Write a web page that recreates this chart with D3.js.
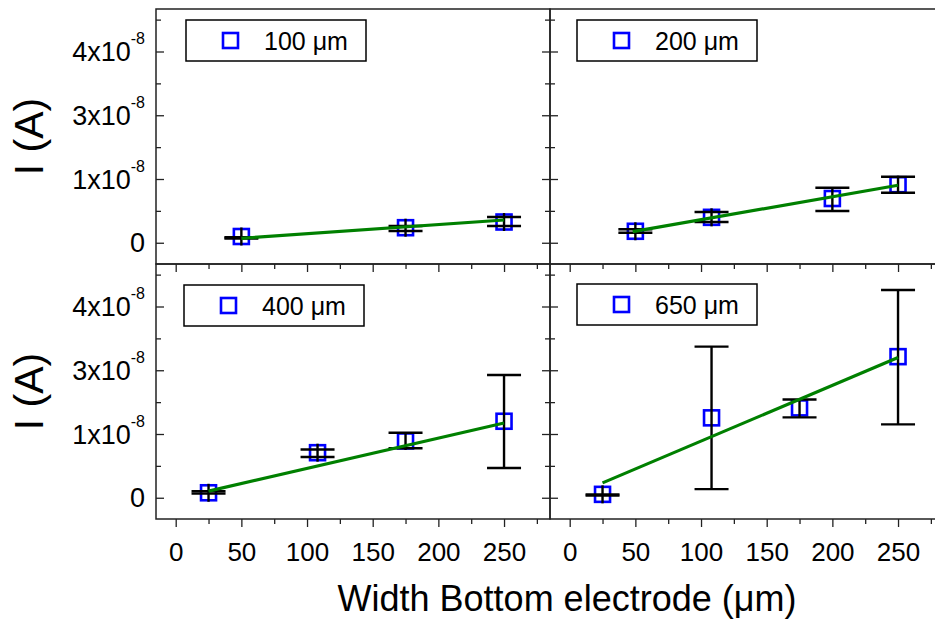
<!DOCTYPE html>
<html>
<head>
<meta charset="utf-8">
<script src="https://cdn.jsdelivr.net/npm/d3@7"></script>
<style>
  html, body { margin: 0; padding: 0; background: #fff; }
  svg { display: block; }
  text { font-family: "Liberation Sans", Arial, sans-serif; fill: #000; }
</style>
</head>
<body>
<svg id="chart" width="935" height="619"></svg>
<script>
// ---------------- data ----------------
const xTickValues = [0, 50, 100, 150, 200, 250];
const xMinorValues = [25, 75, 125, 175, 225, 275];
const yTickValues = [0, 1.5, 3, 4.5];           // tick positions on the plot's y scale
const yMinorValues = [0.75, 2.25, 3.75, 5.25];
const yTickMain = ["0", "1x10", "3x10", "4x10"];
const yTickExp  = ["", "-8", "-8", "-8"];

const panelLabels = ["100 \u03bcm", "200 \u03bcm", "400 \u03bcm", "650 \u03bcm"];

const x100  = [50, 175, 250];
const y100  = [0.147, 0.354, 0.488];
const lo100 = [0.10, 0.276, 0.394];
const hi100 = [0.13, 0.394, 0.606];
const fitX100 = [50, 250];
const fitY100 = [0.105, 0.535];

const x200  = [50, 108, 200, 250];
const y200  = [0.27, 0.598, 1.041, 1.366];
const lo200 = [0.236, 0.488, 0.747, 1.178];
const hi200 = [0.316, 0.724, 1.295, 1.554];
const fitX200 = [48, 250];
const fitY200 = [0.26, 1.352];

const x400  = [25, 108, 175, 250];
const y400  = [0.117, 1.06, 1.336, 1.80];
const lo400 = [0.10, 0.96, 1.165, 0.70];
const hi400 = [0.157, 1.134, 1.53, 2.89];
const fitX400 = [25, 250];
const fitY400 = [0.157, 1.76];

const x650  = [25, 108, 175, 250];
const y650  = [0.08, 1.88, 2.114, 3.32];
const lo650 = [0.05, 0.204, 1.891, 1.727];
const hi650 = [0.08, 3.555, 2.313, 4.89];
const fitX650 = [25, 250];
const fitY650 = [0.35, 3.30];

const seriesX  = [x100, x200, x400, x650];
const seriesY  = [y100, y200, y400, y650];
const seriesLo = [lo100, lo200, lo400, lo650];
const seriesHi = [hi100, hi200, hi400, hi650];
const fitXs = [fitX100, fitX200, fitX400, fitX650];
const fitYs = [fitY100, fitY200, fitY400, fitY650];

// ---------------- layout ----------------
const svg = d3.select("#chart");
const colLeft = [156, 550];
const rowTop = [9, 264];
const pw = 394, ph = 255;
const legendOffsets = [[30, 11], [27, 11], [28, 21], [27, 20]];
const legendW = 180, legendH = 41;

const xDomain = [-15, 285];
const yDomain = [-0.5, 5.5];

const blue = "#0000ff", green = "#008000";
const frameColor = "#222";

function styleTicks(s) {
  s.select(".domain").remove();
  s.selectAll("line").attr("stroke", frameColor).attr("stroke-width", 1.3);
}

for (let p = 0; p < 4; p++) {
  const col = p % 2, row = Math.floor(p / 2);
  const x0 = colLeft[col], y0 = rowTop[row];
  const x = d3.scaleLinear().domain(xDomain).range([x0, x0 + pw]);
  const y = d3.scaleLinear().domain(yDomain).range([y0 + ph, y0]);
  const g = svg.append("g");

  // frame
  g.append("rect").attr("x", x0).attr("y", y0).attr("width", pw).attr("height", ph)
    .attr("fill", "none").attr("stroke", frameColor).attr("stroke-width", 1.5);

  // y ticks, inward on both sides
  g.append("g").attr("transform", `translate(${x0},0)`)
    .call(d3.axisRight(y).tickValues(yTickValues).tickSize(8).tickFormat("")).call(styleTicks);
  g.append("g").attr("transform", `translate(${x0},0)`)
    .call(d3.axisRight(y).tickValues(yMinorValues).tickSize(5).tickFormat("")).call(styleTicks);
  g.append("g").attr("transform", `translate(${x0 + pw},0)`)
    .call(d3.axisLeft(y).tickValues(yTickValues).tickSize(8).tickFormat("")).call(styleTicks);
  g.append("g").attr("transform", `translate(${x0 + pw},0)`)
    .call(d3.axisLeft(y).tickValues(yMinorValues).tickSize(5).tickFormat("")).call(styleTicks);

  if (row === 1) {
    g.append("g").attr("transform", `translate(0,${y0})`)
      .call(d3.axisBottom(x).tickValues(xTickValues).tickSize(8).tickFormat("")).call(styleTicks);
    g.append("g").attr("transform", `translate(0,${y0})`)
      .call(d3.axisBottom(x).tickValues(xMinorValues).tickSize(5).tickFormat("")).call(styleTicks);
    g.append("g").attr("transform", `translate(0,${y0 + ph})`)
      .call(d3.axisBottom(x).tickValues(xTickValues).tickSize(8).tickPadding(16).tickFormat(d3.format("d")))
      .call(s => {
        styleTicks(s);
        s.selectAll("text").attr("font-size", 26).attr("font-family", "Liberation Sans, Arial, sans-serif").attr("fill", "#000");
      });
    g.append("g").attr("transform", `translate(0,${y0 + ph})`)
      .call(d3.axisBottom(x).tickValues(xMinorValues).tickSize(5).tickFormat("")).call(styleTicks);
  }

  if (col === 0) {
    yTickValues.forEach((v, i) => {
      const t = g.append("text").attr("x", x0 - 11).attr("y", y(v) + 9.5)
        .attr("text-anchor", "end").attr("font-size", 27);
      t.append("tspan").text(yTickMain[i]);
      if (yTickExp[i]) t.append("tspan").attr("dy", -17).attr("font-size", 16).text(yTickExp[i]);
    });
    svg.append("text")
      .attr("transform", `translate(43,${y0 + ph / 2}) rotate(-90)`)
      .attr("text-anchor", "middle").attr("font-size", 41).text("I (A)");
  }

  const xs = seriesX[p], ys = seriesY[p], los = seriesLo[p], his = seriesHi[p];
  const pts = xs.map((d, i) => ({ x: d, y: ys[i], lo: los[i], hi: his[i] }));

  g.selectAll("rect.pt").data(pts).join("rect").attr("class", "pt")
    .attr("x", d => x(d.x) - 7.5).attr("y", d => y(d.y) - 7.5)
    .attr("width", 15).attr("height", 15)
    .attr("fill", "none").attr("stroke", blue).attr("stroke-width", 2.6);

  const eb = g.selectAll("g.eb").data(pts).join("g").attr("class", "eb")
    .attr("stroke", "#000").attr("stroke-width", 2.4);
  eb.append("line")
    .attr("x1", d => x(d.x)).attr("x2", d => x(d.x))
    .attr("y1", d => Math.min(y(d.hi), y(d.y) - 9))
    .attr("y2", d => Math.max(y(d.lo), y(d.y) + 9));
  eb.append("line")
    .attr("x1", d => x(d.x) - 17).attr("x2", d => x(d.x) + 17)
    .attr("y1", d => y(d.hi)).attr("y2", d => y(d.hi));
  eb.append("line")
    .attr("x1", d => x(d.x) - 17).attr("x2", d => x(d.x) + 17)
    .attr("y1", d => y(d.lo)).attr("y2", d => y(d.lo));

  const fit = fitXs[p].map((d, i) => [d, fitYs[p][i]]);
  g.append("path").datum(fit)
    .attr("d", d3.line().x(d => x(d[0])).y(d => y(d[1])))
    .attr("fill", "none").attr("stroke", green).attr("stroke-width", 3.2);

  const lx = x0 + legendOffsets[p][0], ly = y0 + legendOffsets[p][1];
  g.append("rect").attr("x", lx).attr("y", ly).attr("width", legendW).attr("height", legendH)
    .attr("fill", "#fff").attr("stroke", "#000").attr("stroke-width", 1.5);
  g.append("rect").attr("x", lx + 37).attr("y", ly + legendH / 2 - 7.5).attr("width", 15).attr("height", 15)
    .attr("fill", "none").attr("stroke", blue).attr("stroke-width", 2.6);
  g.append("text").attr("x", lx + 78).attr("y", ly + legendH / 2 + 9)
    .attr("font-size", 25).text(panelLabels[p]);
}

svg.append("text").attr("x", 567).attr("y", 611).attr("text-anchor", "middle")
  .attr("font-size", 36).text("Width Bottom electrode (\u03bcm)");
</script>
</body>
</html>
